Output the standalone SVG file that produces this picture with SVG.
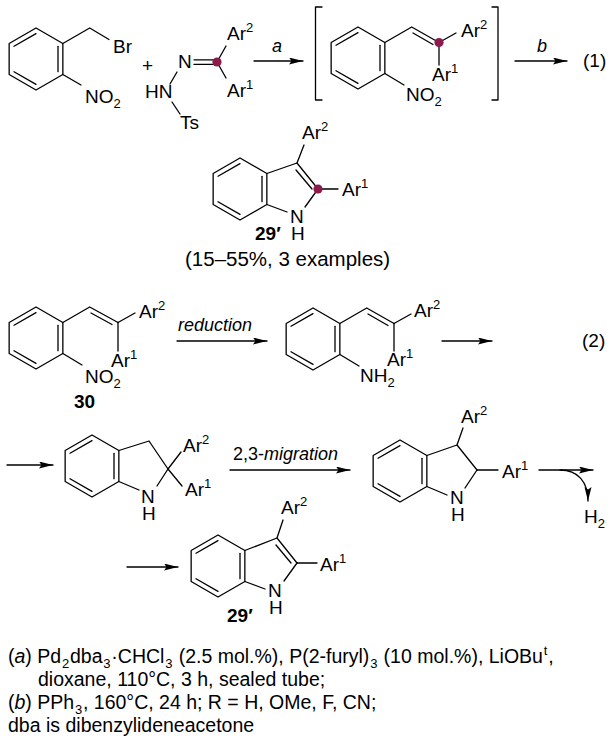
<svg xmlns="http://www.w3.org/2000/svg" xmlns:xlink="http://www.w3.org/1999/xlink" width="613" height="738" viewBox="0 0 613 738">
<style>
  line, path, polyline, polygon { stroke: #000; stroke-width: 1.3; fill: none; stroke-linecap: round; stroke-linejoin: round; }
  text { font-family: "Liberation Sans", Arial, sans-serif; font-size: 19px; fill: #000; }
  .it { font-style: italic; }
  .bd { font-weight: bold; }
  .sm { font-size: 13px; }
  .lab { font-size: 18px; }
  .dot { fill: #8c1a4a; stroke: none; }
  .arr { marker-end: url(#ah); }
  .note { font-size: 19.5px; }
  .yld { font-size: 20.5px; }
</style>
<defs>
  <marker id="ah" markerUnits="userSpaceOnUse" markerWidth="15" markerHeight="8" refX="14" refY="3.5" orient="auto">
    <path d="M0,0 L14,3.5 L0,7 L2.5,3.5 z" style="fill:#000;stroke:none"/>
  </marker>
  <g id="benz">
    <polygon points="0,-31 26.85,-15.5 26.85,15.5 0,31 -26.85,15.5 -26.85,-15.5"/>
    <line x1="-22" y1="-12.7" x2="0" y2="-25.4"/>
    <line x1="22" y1="-12.7" x2="22" y2="12.7"/>
    <line x1="0" y1="25.4" x2="-22" y2="12.7"/>
  </g>
</defs>

<!-- Scheme (1) -->
<g id="nitrobenzyl-bromide">
  <use xlink:href="#benz" x="36" y="59"/>
  <polyline points="62.85,43.5 89.7,28 109,39.5"/>
  <line x1="62.85" y1="74.5" x2="81" y2="85"/>
  <text x="113" y="53">Br</text>
  <text x="85" y="103">NO<tspan class="sm" dy="5">2</tspan></text>
</g>
<text id="plus" x="142" y="72">+</text>
<g id="tosylhydrazone">
  <text x="178" y="68">N</text>
  <line x1="194" y1="59.8" x2="216" y2="59.8"/>
  <line x1="194" y1="64.4" x2="216" y2="64.4"/>
  <line x1="217" y1="62" x2="226" y2="46"/>
  <line x1="217" y1="62" x2="226" y2="78"/>
  <circle class="dot" cx="217" cy="62" r="4.6"/>
  <text x="227" y="40">Ar<tspan class="sm" dy="-8">2</tspan></text>
  <text x="227" y="97">Ar<tspan class="sm" dy="-8">1</tspan></text>
  <line x1="177" y1="72" x2="170" y2="84"/>
  <text x="145" y="98">HN</text>
  <line x1="172" y1="102" x2="180" y2="114"/>
  <text x="180" y="129">Ts</text>
</g>
<g id="intermediate">
  <path d="M322,7 H315.5 V100 H322"/>
  <path d="M492,7 H498 V100 H492"/>
  <use xlink:href="#benz" x="358" y="58"/>
  <polyline points="384.85,42.5 411.7,27 439,42.5"/>
  <line x1="413" y1="33" x2="433" y2="44.5"/>
  <line x1="439" y1="42.5" x2="456" y2="33"/>
  <line x1="439" y1="42.5" x2="439" y2="65"/>
  <line x1="384.85" y1="73.5" x2="404" y2="85"/>
  <circle class="dot" cx="439" cy="42.5" r="4.6"/>
  <text x="461" y="37">Ar<tspan class="sm" dy="-8">2</tspan></text>
  <text x="432" y="81">Ar<tspan class="sm" dy="-8">1</tspan></text>
  <text x="406" y="101">NO<tspan class="sm" dy="5">2</tspan></text>
</g>
<text id="eq1" x="583" y="67">(1)</text>

<g id="indole-29a">
  <use xlink:href="#benz" x="240" y="189"/>
  <polyline points="266.85,173.5 297,163 318,189"/>
  <line x1="296" y1="170" x2="312" y2="189"/>
  <line x1="318" y1="189" x2="305" y2="207"/>
  <line x1="266.85" y1="204.5" x2="287" y2="212"/>
  <line x1="297" y1="163" x2="304" y2="145"/>
  <line x1="318" y1="189" x2="338" y2="189"/>
  <circle class="dot" cx="318" cy="189" r="4.6"/>
  <text x="302" y="139">Ar<tspan class="sm" dy="-8">2</tspan></text>
  <text x="342" y="196">Ar<tspan class="sm" dy="-8">1</tspan></text>
  <text x="290" y="223">N</text>
  <text x="291" y="240">H</text>
  <text class="bd" x="255" y="240">29′</text>
  <text class="yld" x="185" y="266">(15–55%, 3 examples)</text>
</g>

<!-- Scheme (2) -->
<g id="compound-30">
  <use xlink:href="#benz" x="36" y="338"/>
  <polyline points="62.85,322.5 89.7,307 118,322.5"/>
  <line x1="91" y1="313" x2="112" y2="324.5"/>
  <line x1="118" y1="322.5" x2="135" y2="313"/>
  <line x1="118" y1="322.5" x2="118" y2="351"/>
  <line x1="62.85" y1="353.5" x2="82" y2="365"/>
  <text x="139" y="318">Ar<tspan class="sm" dy="-8">2</tspan></text>
  <text x="111" y="367">Ar<tspan class="sm" dy="-8">1</tspan></text>
  <text x="85" y="383">NO<tspan class="sm" dy="5">2</tspan></text>
  <text class="bd" x="74" y="408">30</text>
</g>
<g id="amine">
  <use xlink:href="#benz" x="313" y="339"/>
  <polyline points="339.85,323.5 366.7,308 394,323.5"/>
  <line x1="368" y1="314" x2="388" y2="325.5"/>
  <line x1="394" y1="323.5" x2="411" y2="314"/>
  <line x1="394" y1="323.5" x2="394" y2="351"/>
  <line x1="339.85" y1="354.5" x2="359" y2="366"/>
  <text x="414" y="317">Ar<tspan class="sm" dy="-8">2</tspan></text>
  <text x="387" y="366">Ar<tspan class="sm" dy="-8">1</tspan></text>
  <text x="360" y="382">NH<tspan class="sm" dy="5">2</tspan></text>
</g>
<text id="eq2" x="582" y="347">(2)</text>

<g id="indoline-22">
  <use xlink:href="#benz" x="92" y="466"/>
  <polyline points="118.85,450.5 149,441 168,469"/>
  <line x1="168" y1="469" x2="157" y2="486"/>
  <line x1="118.85" y1="481.5" x2="139" y2="490"/>
  <line x1="168" y1="469" x2="181" y2="452"/>
  <line x1="168" y1="469" x2="182" y2="486"/>
  <text x="183" y="452">Ar<tspan class="sm" dy="-8">2</tspan></text>
  <text x="185" y="496">Ar<tspan class="sm" dy="-8">1</tspan></text>
  <text x="141" y="503">N</text>
  <text x="142" y="520">H</text>
</g>
<g id="indoline-23">
  <use xlink:href="#benz" x="400" y="471"/>
  <polyline points="426.85,455.5 457,445 477,470"/>
  <line x1="477" y1="470" x2="465" y2="488"/>
  <line x1="426.85" y1="486.5" x2="447" y2="495"/>
  <line x1="457" y1="445" x2="463" y2="428"/>
  <line x1="477" y1="470" x2="498" y2="470"/>
  <text x="461" y="423">Ar<tspan class="sm" dy="-8">2</tspan></text>
  <text x="502" y="478">Ar<tspan class="sm" dy="-8">1</tspan></text>
  <text x="450" y="504">N</text>
  <text x="451" y="521">H</text>
</g>
<text id="h2" x="584" y="523">H<tspan class="sm" dy="5">2</tspan></text>

<g id="indole-29b">
  <use xlink:href="#benz" x="218" y="566"/>
  <polyline points="244.85,550.5 277,538 297,563"/>
  <line x1="276" y1="545" x2="291" y2="563"/>
  <line x1="297" y1="563" x2="284" y2="581"/>
  <line x1="244.85" y1="581.5" x2="265" y2="589"/>
  <line x1="277" y1="538" x2="283" y2="520"/>
  <line x1="297" y1="563" x2="317" y2="563"/>
  <text x="281" y="514">Ar<tspan class="sm" dy="-8">2</tspan></text>
  <text x="320" y="571">Ar<tspan class="sm" dy="-8">1</tspan></text>
  <text x="268" y="597">N</text>
  <text x="269" y="614">H</text>
  <text class="bd" x="227" y="622">29′</text>
</g>

<g id="connectors">
  <line class="arr" x1="254" y1="61" x2="303" y2="61"/>
  <text class="it lab" x="272" y="52">a</text>
  <line class="arr" x1="515" y1="61" x2="567" y2="61"/>
  <text class="it lab" x="537" y="52">b</text>
  <line class="arr" x1="177" y1="341" x2="267" y2="341"/>
  <text class="it lab" x="178" y="331">reduction</text>
  <line class="arr" x1="442" y1="341" x2="492" y2="341"/>
  <line class="arr" x1="7" y1="465" x2="53" y2="465"/>
  <line class="arr" x1="230" y1="470" x2="350" y2="470"/>
  <text class="lab" x="233" y="460">2,3-<tspan class="it">migration</tspan></text>
  <line class="arr" x1="539" y1="470" x2="593" y2="470"/>
  <path class="arr" d="M560,470 C578,470 588,482 588,501"/>
  <line class="arr" x1="127" y1="567" x2="178" y2="567"/>
</g>

<g id="footnote">
  <text class="note" x="8" y="663">(<tspan class="it">a</tspan>) Pd<tspan class="sm" dx="0.8" dy="5">2</tspan><tspan dx="0.8" dy="-5">dba</tspan><tspan class="sm" dx="0.8" dy="5">3</tspan><tspan dx="0.8" dy="-5">·CHCl</tspan><tspan class="sm" dx="0.8" dy="5">3</tspan><tspan dx="0.8" dy="-5"> (2.5 mol.%), P(2-furyl)</tspan><tspan class="sm" dx="0.8" dy="5">3</tspan><tspan dx="0.8" dy="-5"> (10 mol.%), LiOBu</tspan><tspan class="sm" dx="0.8" dy="-8">t</tspan><tspan dx="0.8" dy="8">,</tspan></text>
  <text class="note" x="38" y="686">dioxane, 110°C, 3 h, sealed tube;</text>
  <text class="note" x="8" y="709">(<tspan class="it">b</tspan>) PPh<tspan class="sm" dx="0.8" dy="5">3</tspan><tspan dx="0.8" dy="-5">, 160°C, 24 h; R = H, OMe, F, CN;</tspan></text>
  <text class="note" x="8" y="732">dba is dibenzylideneacetone</text>
</g>
</svg>
